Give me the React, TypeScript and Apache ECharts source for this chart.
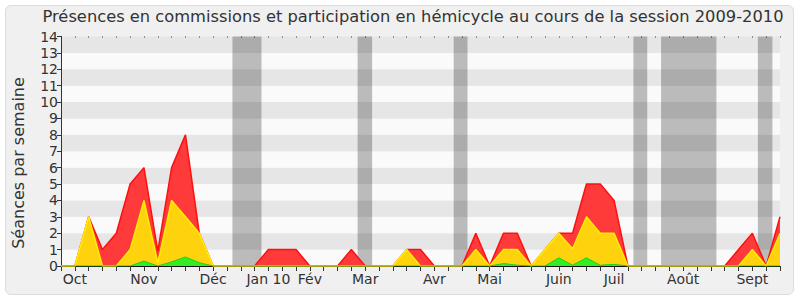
import React, { useEffect, useRef } from "react";
import * as echarts from "echarts";

// Weekly values, index 0..52 (one point per week tick)
const totalValues = [0, 0, 3, 1, 2, 5, 6, 0.9, 6, 8, 2, 0, 0, 0, 0, 1, 1, 1, 0, 0, 0, 1, 0, 0, 0, 1, 1, 0, 0, 0, 2, 0, 2, 2, 0, 1, 2, 2, 5, 5, 4, 0, 0, 0, 0, 0, 0, 0, 0, 1, 2, 0, 3];
const hemicycleValues = [0, 0, 3, 0, 0, 1, 4, 0.2, 4, 3, 2, 0, 0, 0, 0, 0, 0, 0, 0, 0, 0, 0, 0, 0, 0, 1, 0, 0, 0, 0, 1, 0, 1, 1, 0, 1, 2, 1.05, 3, 2, 2, 0, 0, 0, 0, 0, 0, 0, 0, 0, 1, 0, 2];
const greenValues = [0, 0, 0, 0, 0, 0, 0.3, 0, 0.25, 0.55, 0.2, 0, 0, 0, 0, 0, 0, 0, 0, 0, 0, 0, 0, 0, 0, 0, 0, 0, 0, 0, 0, 0, 0.15, 0.05, 0, 0, 0.5, 0.05, 0.5, 0.05, 0.1, 0, 0, 0, 0, 0, 0, 0, 0, 0, 0, 0, 0];

const monthTickIndex = [1, 6, 11, 15, 18, 22, 27, 31, 36, 40, 45, 50];
const monthLabels = ["Oct", "Nov", "Déc", "Jan 10", "Fév", "Mar", "Avr", "Mai", "Juin", "Juil", "Août", "Sept"];

const holidayStarts = [12.4, 21.45, 28.4, 41.4, 43.4, 50.4];
const holidayEnds = [14.5, 22.5, 29.4, 42.4, 47.4, 51.45];

const titleText = "Présences en commissions et participation en hémicycle au cours de la session 2009-2010";
const yAxisTitle = "Séances par semaine";

const FONT = "DejaVu Sans";

export default function App() {
  const ref = useRef<HTMLDivElement>(null);
  useEffect(() => {
    if (!ref.current) return;
    const chart = echarts.init(ref.current, null, { renderer: "svg" });
    const toPairs = (arr: number[]) => arr.map((v, i) => [i, v]);
    const labelMap: Record<number, string> = {};
    monthTickIndex.forEach((t, i) => (labelMap[t] = monthLabels[i]));
    chart.setOption({
      animation: false,
      backgroundColor: "transparent",
      grid: { left: 61, right: 20, top: 36.5, bottom: 34, containLabel: false },
      graphic: [
        {
          type: "text",
          x: 413,
          y: 8,
          style: {
            text: titleText,
            fill: "#333",
            font: `16.3px "${FONT}"`,
            align: "center",
            verticalAlign: "top",
          },
        },
        {
          type: "text",
          x: 18,
          y: 163,
          rotation: Math.PI / 2,
          style: {
            text: yAxisTitle,
            fill: "#333",
            font: `16px "${FONT}"`,
            align: "center",
            verticalAlign: "middle",
          },
        },
      ],
      xAxis: [
        {
          type: "value",
          min: 0,
          max: 52,
          interval: 1,
          axisLine: { show: true, lineStyle: { color: "#111", width: 1 } },
          axisTick: { show: true, length: 5, lineStyle: { color: "#333" } },
          splitLine: { show: false },
          axisLabel: {
            show: true,
            margin: 6,
            color: "#333",
            fontSize: 14,
            fontFamily: FONT,
            formatter: (v: number) => labelMap[v] ?? "",
            showMinLabel: true,
            showMaxLabel: true,
          },
        },
        {
          type: "value",
          position: "top",
          min: 0,
          max: 52,
          interval: 1,
          axisLine: { show: false },
          axisTick: { show: true, inside: true, length: 1, lineStyle: { color: "#333" } },
          axisLabel: { show: false },
          splitLine: { show: false },
        },
      ],
      yAxis: {
        type: "value",
        min: 0,
        max: 14,
        interval: 1,
        axisLine: { show: true, lineStyle: { color: "#333" } },
        axisTick: { show: true, length: 4, lineStyle: { color: "#333" } },
        splitLine: { show: false },
        splitArea: { show: true, areaStyle: { color: ["#fafafa", "#e6e6e6"] } },
        axisLabel: { color: "#333", fontSize: 14, fontFamily: FONT, margin: 3 },
      },
      series: [
        {
          type: "line",
          z: 1,
          data: [],
          silent: true,
          markArea: {
            silent: true,
            itemStyle: { color: "rgba(0,0,0,0.25)", borderWidth: 0 },
            data: holidayStarts.map((s, i) => [{ xAxis: s }, { xAxis: holidayEnds[i] }]),
          },
        },
        {
          type: "line",
          z: 2,
          data: toPairs(totalValues),
          showSymbol: false,
          lineStyle: { color: "#ff1010", width: 1.5 },
          areaStyle: { color: "#ff3a3a", opacity: 1 },
          silent: true,
        },
        {
          type: "line",
          z: 3,
          data: toPairs(hemicycleValues),
          showSymbol: false,
          lineStyle: { color: "#ffee00", width: 1.5 },
          areaStyle: { color: "#ffd20e", opacity: 1 },
          silent: true,
        },
        {
          type: "line",
          z: 4,
          data: toPairs(greenValues),
          showSymbol: false,
          lineStyle: { color: "#22cc22", width: 1 },
          areaStyle: { color: "#33ee22", opacity: 1 },
          silent: true,
        },
      ],
    });
    return () => chart.dispose();
  }, []);
  return (
    <div style={{ position: "absolute", left: 0, top: 0, width: 800, height: 300, background: "#fff" }}>
      <div
        style={{
          position: "absolute",
          left: 5,
          top: 5,
          width: 787,
          height: 288,
          background: "#f0f0f0",
          border: "1px solid #dcdcdc",
          borderRadius: 6,
        }}
      />
      <div ref={ref} style={{ position: "absolute", left: 0, top: 0, width: 800, height: 300 }} />
    </div>
  );
}
